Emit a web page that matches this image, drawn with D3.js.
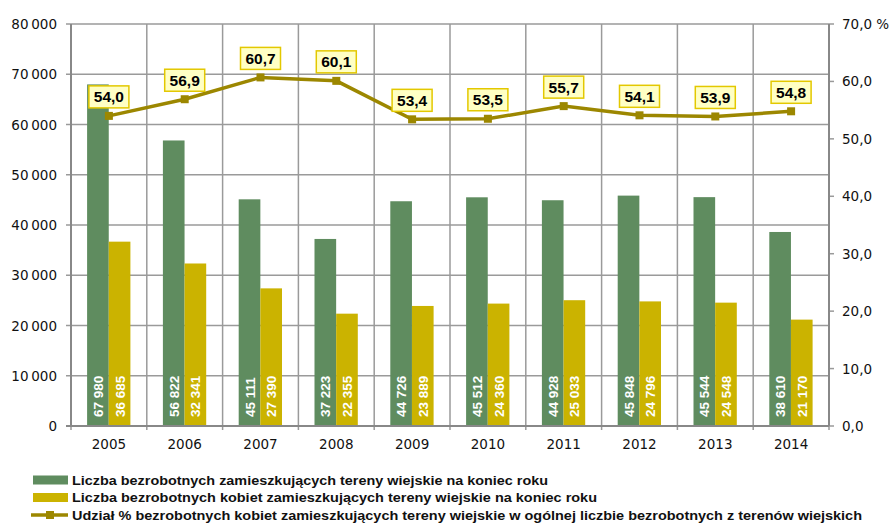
<!DOCTYPE html>
<html>
<head>
<meta charset="utf-8">
<script src="https://cdn.jsdelivr.net/npm/d3@7"></script>
<style>
  body { margin: 0; background: #fff; }
  svg { display: block; }
</style>
</head>
<body>
<div id="chart"></div>
<script>
// data
var years = ["2005", "2006", "2007", "2008", "2009", "2010", "2011", "2012", "2013", "2014"];
var totalRural = [67980, 56822, 45111, 37223, 44726, 45512, 44928, 45848, 45544, 38610];
var womenRural = [36685, 32341, 27390, 22355, 23889, 24360, 25033, 24796, 24548, 21170];
var womenShare = [54.0, 56.9, 60.7, 60.1, 53.4, 53.5, 55.7, 54.1, 53.9, 54.8];
var leftTicks = [0, 10000, 20000, 30000, 40000, 50000, 60000, 70000, 80000];
var rightTicks = [0, 10, 20, 30, 40, 50, 60, 70];
var legendLabels = [
    "Liczba bezrobotnych zamieszkujących tereny wiejskie na koniec roku",
    "Liczba bezrobotnych kobiet zamieszkujących tereny wiejskie na koniec roku",
    "Udział % bezrobotnych kobiet zamieszkujących tereny wiejskie w ogólnej liczbie bezrobotnych z terenów wiejskich"
];

var attrs = {
    width: 893,
    height: 523,
    left: 71,
    right: 829,
    top: 24,
    bottom: 426,
    green: "#5f8c5f",
    yellow: "#cbb300",
    lineColor: "#9c8700",
    grid: "#9a9a9a",
    font: "'DejaVu Sans', sans-serif",
    boldFont: "'Liberation Sans', Arial, sans-serif"
};

var svg = d3.select("#chart").append("svg")
    .attr("width", attrs.width)
    .attr("height", attrs.height);

var x = d3.scaleBand().domain(years).range([attrs.left, attrs.right]).padding(0);
var yLeft = d3.scaleLinear().domain([0, 80000]).range([attrs.bottom, attrs.top]);
var yRight = d3.scaleLinear().domain([0, 70]).range([attrs.bottom, attrs.top]);
var inner = d3.scaleBand().domain(["total", "women"]).range([-21.8, 21.5]).padding(0);

// thousands separated by a narrow space, as in the original
var fmtThousands = function(v, sep) {
    return d3.format(",")(v).replace(/,/g, sep || " ");
};
var fmtPct = function(v) { return d3.format(".1f")(v).replace(".", ","); };

// horizontal gridlines (left axis)
svg.append("g").selectAll("line").data(leftTicks).enter().append("line")
    .attr("x1", attrs.left - 5).attr("x2", attrs.right)
    .attr("y1", function(d) { return yLeft(d); })
    .attr("y2", function(d) { return yLeft(d); })
    .attr("stroke", attrs.grid).attr("stroke-width", 1.5);

// vertical gridlines between categories
var bounds = d3.range(years.length + 1).map(function(i) { return attrs.left + i * x.step(); });
svg.append("g").selectAll("line").data(bounds).enter().append("line")
    .attr("x1", function(d) { return d; }).attr("x2", function(d) { return d; })
    .attr("y1", attrs.top).attr("y2", attrs.bottom + 4)
    .attr("stroke", attrs.grid).attr("stroke-width", 1.5);

// right axis ticks
svg.append("g").selectAll("line").data(rightTicks).enter().append("line")
    .attr("x1", attrs.right).attr("x2", attrs.right + 5)
    .attr("y1", function(d) { return yRight(d); })
    .attr("y2", function(d) { return yRight(d); })
    .attr("stroke", attrs.grid).attr("stroke-width", 1.5);

// bars
var rows = years.map(function(y, i) {
    return { year: y, total: totalRural[i], women: womenRural[i], share: womenShare[i] };
});
var groups = svg.append("g").selectAll("g").data(rows).enter().append("g")
    .attr("transform", function(d) { return "translate(" + (x(d.year) + x.bandwidth() / 2) + ",0)"; });

["total", "women"].forEach(function(key) {
    groups.append("rect")
        .attr("x", inner(key))
        .attr("width", inner.bandwidth())
        .attr("y", function(d) { return yLeft(d[key]); })
        .attr("height", function(d) { return attrs.bottom - yLeft(d[key]); })
        .attr("fill", key === "total" ? attrs.green : attrs.yellow);
    groups.append("text")
        .attr("transform", "translate(" + (inner(key) + inner.bandwidth() / 2 + 5) + "," + (attrs.bottom - 9) + ") rotate(-90)")
        .attr("fill", "#fff")
        .attr("font-family", attrs.boldFont)
        .attr("font-weight", "bold")
        .attr("font-size", 13.5)
        .text(function(d) { return fmtThousands(d[key]); });
});

// axis lines
svg.append("line").attr("x1", attrs.left).attr("x2", attrs.left)
    .attr("y1", attrs.top).attr("y2", attrs.bottom)
    .attr("stroke", "#888").attr("stroke-width", 2);
svg.append("line").attr("x1", attrs.right).attr("x2", attrs.right)
    .attr("y1", attrs.top).attr("y2", attrs.bottom)
    .attr("stroke", "#888").attr("stroke-width", 2);
svg.append("line").attr("x1", attrs.left - 5).attr("x2", attrs.right)
    .attr("y1", attrs.bottom).attr("y2", attrs.bottom)
    .attr("stroke", "#888").attr("stroke-width", 2);

// left labels
svg.append("g").selectAll("text").data(leftTicks).enter().append("text")
    .attr("x", 57).attr("y", function(d) { return yLeft(d) + 5; })
    .attr("text-anchor", "end")
    .attr("font-family", attrs.font).attr("font-size", 13.5).attr("fill", "#111")
    .text(function(d) { return d === 0 ? "0" : fmtThousands(d, "\u2009"); });

// right labels
svg.append("g").selectAll("text").data(rightTicks).enter().append("text")
    .attr("x", 842).attr("y", function(d) { return yRight(d) + 5; })
    .attr("font-family", attrs.font).attr("font-size", 13.5).attr("fill", "#111")
    .text(function(d) { return fmtPct(d) + (d === 70 ? "  %" : ""); });

// year labels
svg.append("g").selectAll("text").data(years).enter().append("text")
    .attr("x", function(d) { return x(d) + x.bandwidth() / 2; })
    .attr("y", 449)
    .attr("text-anchor", "middle")
    .attr("font-family", attrs.font).attr("font-size", 13.5).attr("fill", "#111")
    .text(function(d) { return d; });

// share line
var cx = function(d) { return x(d.year) + x.bandwidth() / 2; };
var line = d3.line().x(cx).y(function(d) { return yRight(d.share); });
svg.append("path").datum(rows)
    .attr("d", line)
    .attr("fill", "none")
    .attr("stroke", attrs.lineColor)
    .attr("stroke-width", 3.5);
svg.append("g").selectAll("rect").data(rows).enter().append("rect")
    .attr("x", function(d) { return cx(d) - 4; })
    .attr("y", function(d) { return yRight(d.share) - 4; })
    .attr("width", 8).attr("height", 8)
    .attr("fill", attrs.lineColor);

// value boxes
var boxes = svg.append("g").selectAll("g").data(rows).enter().append("g")
    .attr("transform", function(d) { return "translate(" + cx(d) + "," + (yRight(d.share) - 8) + ")"; });
boxes.append("rect")
    .attr("x", -20).attr("y", -22).attr("width", 40).attr("height", 22)
    .attr("fill", "#ffffc4").attr("stroke", "#e3c800").attr("stroke-width", 1.5);
boxes.append("text")
    .attr("y", -5.5).attr("text-anchor", "middle")
    .attr("font-family", attrs.boldFont).attr("font-weight", "bold").attr("font-size", 15.5)
    .attr("fill", "#000")
    .text(function(d) { return fmtPct(d.share); });

// legend
var legendEnds = [548, 597, 862];
var legend = svg.append("g").selectAll("g").data(legendLabels).enter().append("g")
    .attr("transform", function(d, i) { return "translate(0," + (480 + i * 17.5) + ")"; });
legend.each(function(d, i) {
    var g = d3.select(this);
    if (i < 2) {
        g.append("rect").attr("x", 33).attr("y", -4.5).attr("width", 35).attr("height", 9)
            .attr("fill", i === 0 ? attrs.green : attrs.yellow);
    } else {
        g.append("line").attr("x1", 31).attr("x2", 68).attr("y1", 0).attr("y2", 0)
            .attr("stroke", attrs.lineColor).attr("stroke-width", 3.5);
        g.append("rect").attr("x", 46).attr("y", -4).attr("width", 8).attr("height", 8)
            .attr("fill", attrs.lineColor);
    }
    g.append("text")
        .attr("x", 72).attr("y", 4.5)
        .attr("font-family", attrs.boldFont).attr("font-weight", "bold").attr("font-size", 12.5)
        .attr("textLength", legendEnds[i] - 72).attr("lengthAdjust", "spacingAndGlyphs")
        .attr("fill", "#111")
        .text(d);
});
</script>
</body>
</html>
